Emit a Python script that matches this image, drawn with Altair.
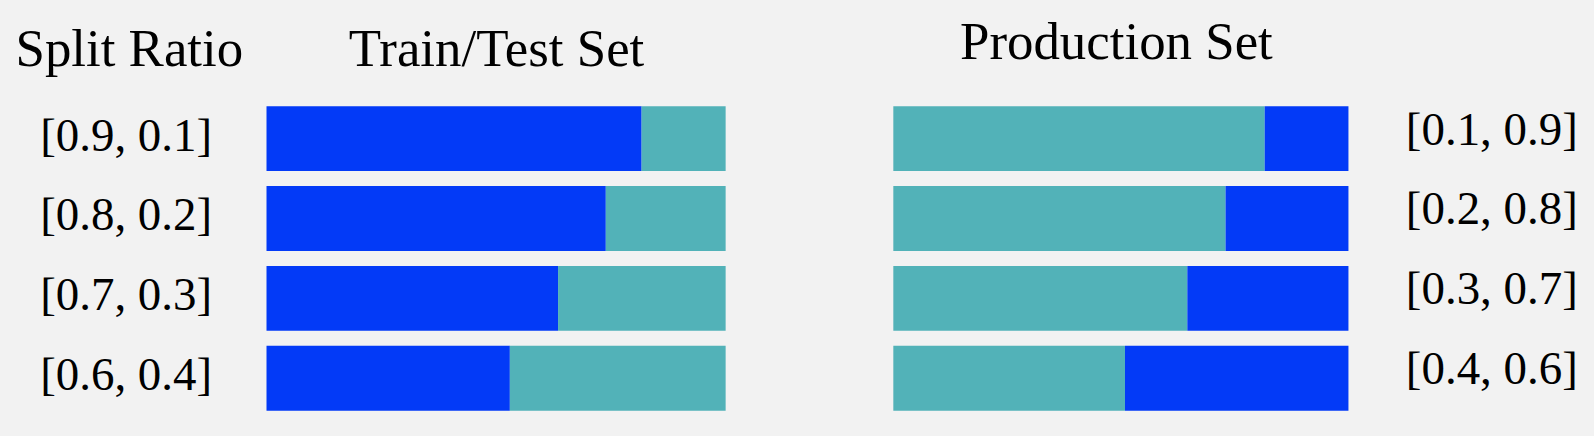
import altair as alt
import pandas as pd

# Row labels (split ratios) and the measured share of the first (left) segment of each bar
train_labels = ["[0.9, 0.1]", "[0.8, 0.2]", "[0.7, 0.3]", "[0.6, 0.4]"]
train_class0 = [0.817, 0.739, 0.635, 0.530]   # blue segment of Train/Test bars

prod_labels = ["[0.1, 0.9]", "[0.2, 0.8]", "[0.3, 0.7]", "[0.4, 0.6]"]
prod_class1 = [0.816, 0.730, 0.646, 0.509]    # teal segment of Production bars

BLUE = "#033af7"
TEAL = "#52b2b8"
BG = "#f2f2f2"
FONT = "Liberation Serif"

left_rows = []
for lab, v in zip(train_labels, train_class0):
    left_rows.append({"row": lab, "part": "class 0", "value": v, "ord": 0})
    left_rows.append({"row": lab, "part": "class 1", "value": 1 - v, "ord": 1})
left_df = pd.DataFrame(left_rows)

right_rows = []
for lab, v in zip(prod_labels, prod_class1):
    right_rows.append({"row": lab, "part": "class 1", "value": v, "ord": 0})
    right_rows.append({"row": lab, "part": "class 0", "value": 1 - v, "ord": 1})
right_df = pd.DataFrame(right_rows)

color = alt.Color("part:N", scale=alt.Scale(domain=["class 0", "class 1"], range=[BLUE, TEAL]), legend=None)
yscale = alt.Scale(paddingInner=0.1875, paddingOuter=0)
H = 305
LBL = 47

left = alt.Chart(left_df).mark_bar(strokeWidth=0).encode(
    x=alt.X("value:Q", stack="zero", scale=alt.Scale(domain=[0, 1], nice=False, zero=True),
            axis=alt.Axis(orient="top", labels=False, ticks=False, domain=False, grid=False,
                          title="Train/Test Set", titleFont=FONT, titleFontSize=53,
                          titleFontWeight="normal", titleColor="black",
                          titleX=230, titleY=-41, titleAlign="center", titleBaseline="alphabetic")),
    y=alt.Y("row:N", sort=train_labels, scale=yscale,
            axis=alt.Axis(orient="left", ticks=False, domain=False, grid=False,
                          labelFont=FONT, labelFontSize=LBL, labelColor="black", labelPadding=55,
                          labelOffset=-2, labelLimit=400,
                          title="Split Ratio", titleFont=FONT, titleFontSize=53,
                          titleFontWeight="normal", titleColor="black", titleAngle=0,
                          titleX=-252, titleY=-41, titleAlign="left", titleBaseline="alphabetic")),
    color=color,
    order=alt.Order("ord:Q"),
).properties(width=460, height=H)

right = alt.Chart(right_df).mark_bar(strokeWidth=0).encode(
    x=alt.X("value:Q", stack="zero", scale=alt.Scale(domain=[0, 1], nice=False, zero=True),
            axis=alt.Axis(orient="top", labels=False, ticks=False, domain=False, grid=False,
                          title="Production Set", titleFont=FONT, titleFontSize=53,
                          titleFontWeight="normal", titleColor="black",
                          titleX=223, titleY=-48, titleAlign="center", titleBaseline="alphabetic")),
    y=alt.Y("row:N", sort=prod_labels, scale=yscale,
            axis=alt.Axis(orient="right", ticks=False, domain=False, grid=False,
                          labelFont=FONT, labelFontSize=LBL, labelColor="black", labelPadding=57,
                          labelOffset=-8, labelLimit=400, labelAlign="left", title=None)),
    color=color,
    order=alt.Order("ord:Q"),
).properties(width=456, height=H)

chart = alt.hconcat(left, right, spacing=168).properties(
    background=BG,
    padding={"left": 7, "top": 8, "right": 8, "bottom": 10},
).configure_view(stroke=None)


class _GrayPage:
    """Wraps Altair's standard HTML template to give the page body the chart's background."""
    def render(self, **kw):
        from altair.utils.html import HTML_TEMPLATE
        html = HTML_TEMPLATE.render(**kw)
        style = "<style>html, body { background: %s; }</style>" % BG
        if "<head>" in html:
            return html.replace("<head>", "<head>" + style, 1)
        return style + html


try:
    chart.save("out.html", embed_options={"renderer": "svg", "actions": False}, template=_GrayPage())
except Exception:
    chart.save("out.html", embed_options={"renderer": "svg", "actions": False})
